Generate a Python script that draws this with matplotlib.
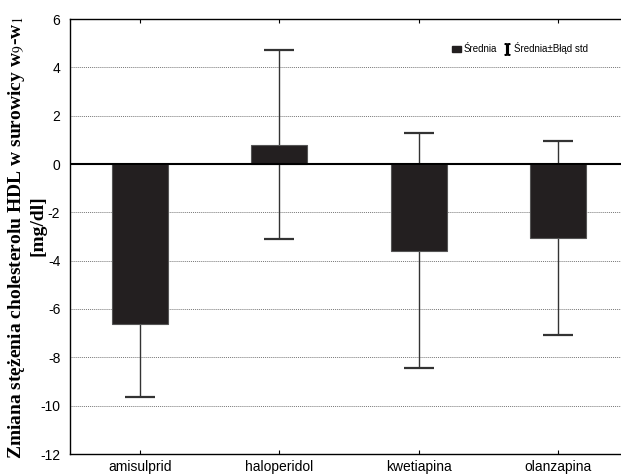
import numpy as np
import matplotlib.pyplot as plt
from matplotlib.lines import Line2D
from matplotlib.patches import Patch

plt.rcParams["axes.unicode_minus"] = False
plt.rcParams["mathtext.fontset"] = "stix"
plt.rcParams["font.family"] = ["Liberation Sans", "DejaVu Sans"]

# dane: średnia zmiana HDL i błąd standardowy
leki = ["amisulprid", "haloperidol", "kwetiapina", "olanzapina"]
srednia = [-6.64, 0.79, -3.58, -3.07]
blad_std = [3.01, 3.91, 4.85, 4.01]
y_ticks = [-12, -10, -8, -6, -4, -2, 0, 2, 4, 6]

fig = plt.figure(figsize=(6.21, 4.76), dpi=100)
ax = fig.add_axes([70 / 621, 1 - 454 / 476, 558 / 621, 435 / 476])

x = np.arange(len(leki))
ax.bar(x, srednia, width=0.4, color="#231f20", edgecolor="#555555", linewidth=0.8, zorder=3)
ax.errorbar(x, srednia, yerr=blad_std, fmt="none", ecolor="#333333", elinewidth=1.0,
            capsize=10.5, capthick=1.6, zorder=2)

ax.axhline(0, color="black", linewidth=1.5, zorder=4)
for t in y_ticks:
    if t not in (0, 6, -12):
        ax.axhline(t, color="#777777", linestyle=(0, (1, 1)), linewidth=0.7, zorder=1)

ax.set_xlim(-0.5, 3.5)
ax.set_ylim(-12, 6)
ax.set_yticks(y_ticks)
ax.set_xticks(x)
ax.set_xticklabels(leki, fontsize=10)
ax.tick_params(axis="y", labelsize=10, length=0, pad=7)
ax.tick_params(axis="x", direction="in", length=3, top=True, pad=4)
ax.spines["right"].set_visible(False)
for s in ("left", "bottom", "top"):
    ax.spines[s].set_linewidth(1.0)

# opis osi Y w dwóch wierszach
opis = dict(family="Liberation Serif", fontweight="bold", fontsize=14, rotation=90,
            ha="center", va="center")
fig.text(17 / 621, 1 - 238 / 476, "Zmiana stężenia cholesterolu HDL w surowicy w$_9$-w$_1$", **opis)
fig.text(38 / 621, 1 - 226 / 476, "[mg/dl]", **opis)

uchwyty = [Patch(facecolor="#231f20", edgecolor="#231f20"),
           Line2D([], [], color="black", marker="$\\mathrm{I}$", linestyle="none", markersize=8)]
ax.legend(uchwyty, ["Średnia", "Średnia±Błąd std"], loc="upper right", bbox_to_anchor=(0.935, 0.955),
          frameon=False, fontsize=7, handlelength=0.9, handletextpad=0.3, columnspacing=0.5,
          ncol=2, borderaxespad=0)

fig.savefig("out.png", dpi=100)
